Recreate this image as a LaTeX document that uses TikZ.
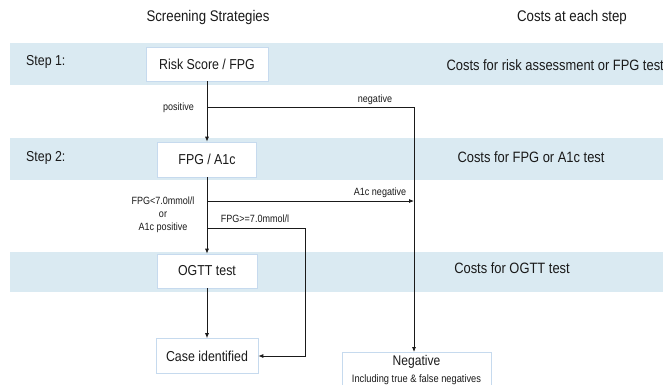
\documentclass[tikz,border=0pt]{standalone}
\usepackage{fontspec}
\setmainfont[FakeStretch=0.86]{Liberation Sans}
\usetikzlibrary{arrows.meta}
\definecolor{bandblue}{HTML}{DAEAF2}
\definecolor{boxedge}{HTML}{C6DAEE}
\definecolor{ink}{HTML}{1A1A1A}
\begin{document}
\begin{tikzpicture}[x=1pt,y=-1pt,
  head/.style={font=\fontsize{15.4}{17}\selectfont, inner sep=0pt, text=ink},
  steplabel/.style={font=\fontsize{14.4}{16}\selectfont, inner sep=0pt, text=ink},
  cost/.style={font=\fontsize{15}{17}\selectfont, inner sep=0pt, text=ink},
  stepbox/.style={draw=boxedge, fill=white, line width=0.7pt, inner sep=0pt,
                  font=\fontsize{14.4}{16}\selectfont, text=ink},
  small/.style={font=\fontsize{10.5}{12}\selectfont, inner sep=0pt, text=ink},
  cond/.style={font=\fontsize{10.5}{13}\selectfont, inner sep=0pt, align=center, text=ink},
  arr/.style={draw=ink, line width=0.75pt, -{Latex[length=5pt,width=4pt]}},
  ln/.style={draw=ink, line width=0.75pt}
]
\useasboundingbox (0,0) rectangle (663,384);
\fill[white] (0,0) rectangle (663,384);
\clip (0,0) rectangle (663,384);

% bands
\fill[bandblue] (10,43) rectangle (663,85);
\fill[bandblue] (10,138) rectangle (663,180);
\fill[bandblue] (10,252) rectangle (663,292);

% headers
\node[head] (hs) at (208,18) {Screening Strategies};
\node[head] (hc) at (572,18) {Costs at each step};

% step labels
\node[steplabel, anchor=west] (s1) at (26,62) {Step 1:};
\node[steplabel, anchor=west] (s2) at (26,158) {Step 2:};

% boxes
\node[stepbox, minimum width=122, minimum height=34] (risk) at (207,64) {Risk Score / FPG};
\node[stepbox, minimum width=99, minimum height=35] (fpg) at (207,159.5) {FPG / A1c};
\node[stepbox, minimum width=100, minimum height=34] (ogtt) at (207,271) {OGTT test};
\node[stepbox, minimum width=102, minimum height=35] (case) at (207,356) {Case identified};
\node[stepbox, anchor=north, minimum width=149, minimum height=36, align=center] (negb) at (416.5,352)
  {\fontsize{14}{14}\selectfont Negative\\[1pt]\fontsize{10.8}{12}\selectfont Including true \& false negatives};

% costs
\node[cost, anchor=east] (c1) at (664,65) {Costs for risk assessment or FPG test};
\node[cost] (c2) at (531,157) {Costs for FPG or A1c test};
\node[cost] (c3) at (512,268) {Costs for OGTT test};

% junction coordinates
\coordinate (j1) at (207,107.5);
\coordinate (j1r) at (414,107.5);
\coordinate (j2) at (207,201);
\coordinate (j2r) at (414,201);
\coordinate (j3) at (207,228);
\coordinate (j3r) at (305,228);

% connectors
\draw[arr] (risk) -- (fpg);
\draw[arr] (fpg) -- (ogtt);
\draw[arr] (ogtt) -- (case);
\draw[arr] (j1) -- (j1r) -- (j1r |- negb.north);
\draw[arr] (j2) -- (j2r);
\draw[arr] (j3) -- (j3r) -- (j3r |- case.east) -- (case.east);

% labels
\node[small, anchor=east] (pos) at (194,108) {positive};
\node[small] (neg) at (375,100) {negative};
\node[small] (a1cneg) at (380,193) {A1c negative};
\node[cond] (condl) at (163,214.5) {FPG<7.0mmol/l\\or\\A1c positive};
\node[small] (fpgge) at (255,219) {FPG>=7.0mmol/l};
\end{tikzpicture}
\end{document}
